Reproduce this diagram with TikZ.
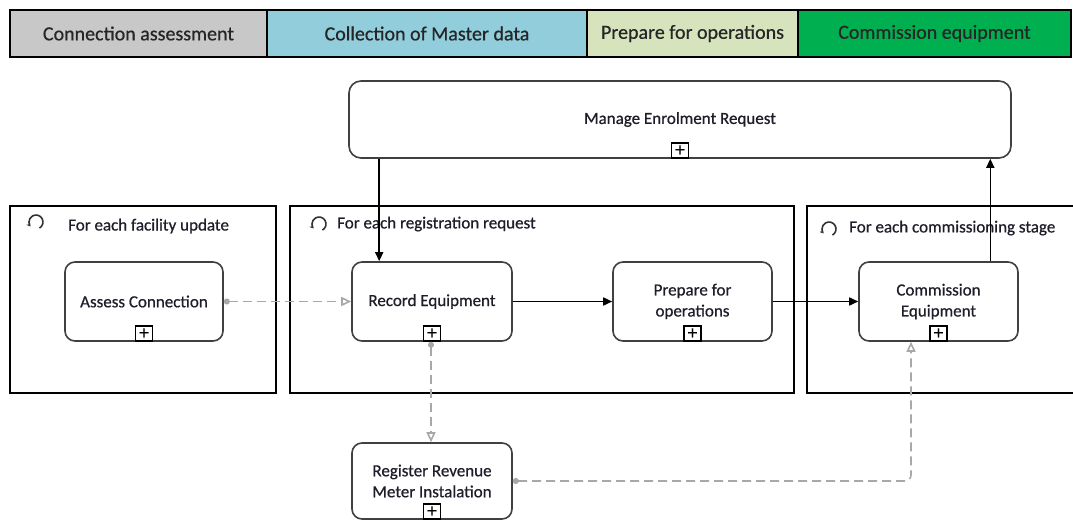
\documentclass[tikz,border=0pt]{standalone}
\usepackage{fontspec}
\setmainfont{Carlito}
\newfontfamily\medfont[FakeBold=0.6]{Carlito}
\usetikzlibrary{arrows.meta}
\definecolor{hgray}{HTML}{C8C8C8}
\definecolor{hblue}{HTML}{92CDDC}
\definecolor{holive}{HTML}{D6E3BC}
\definecolor{hgreen}{HTML}{00B050}
\definecolor{dgray}{HTML}{A8A8A8}
\definecolor{txt}{HTML}{1E1E2A}
\begin{document}
\begin{tikzpicture}[x=1pt,y=-1pt,
  hdr/.style={draw=black, line width=1.6pt, minimum height=47pt, inner sep=0pt,
    font=\medfont\fontsize{20}{24}\selectfont, text=black!85},
  loopbox/.style={draw=black, line width=1.8pt, inner sep=0pt},
  task/.style={draw=black!75, line width=1.6pt, rounded corners=10pt, align=center,
    font=\medfont\fontsize{17}{21}\selectfont, text=txt, inner sep=0pt},
  plusbox/.style={draw=black, line width=1.4pt, minimum width=17pt, minimum height=15pt,
    inner sep=0pt, anchor=south, font=\medfont\fontsize{19}{19}\selectfont},
  looptxt/.style={anchor=west, inner sep=0pt, font=\medfont\fontsize{17}{21}\selectfont, text=txt},
  loopicon/.style={draw=black!80, line width=1.6pt, -{Stealth[length=4pt,width=4.5pt]}},
  flow/.style={draw=black, line width=1.6pt, -{Triangle[length=9pt,width=8pt]}},
  msg/.style={draw=dgray, line width=1.6pt, dash pattern=on 9pt off 5pt,
    {Circle[length=6pt,fill=dgray]}-{Triangle[open,length=10pt,width=9pt,fill=white]}}
]
\clip (0,0) rectangle (1073,521);
\fill[white] (0,0) rectangle (1073,521);

% header bar
\node[hdr, fill=hgray,  minimum width=257pt] (h1) at (138.5,33.5) {Connection assessment};
\node[hdr, fill=hblue,  minimum width=320pt] (h2) at (427,33.5) {Collection of Master data};
\node[hdr, fill=holive, minimum width=211pt] (h3) at (692.5,33.5) {Prepare for operations};
\node[hdr, fill=hgreen, minimum width=273pt] (h4) at (934.5,33.5) {Commission equipment};

% manage enrolment
\node[task, rounded corners=12pt, minimum width=662pt, minimum height=77pt] (man) at (680,119.5) {Manage Enrolment Request};
\node[plusbox] (pman) at (man.south) {+};

% loop boxes
\node[loopbox, minimum width=266pt, minimum height=187pt] (l1) at (143,299.5) {};
\node[loopbox, minimum width=504pt, minimum height=187pt] (l2) at (542,299.5) {};
\node[loopbox, minimum width=280pt, minimum height=187pt] (l3) at (947,299.5) {};

\node[looptxt] (t1) at (68,226) {For each facility update};
\node[looptxt] (t2) at (337,224) {For each registration request};
\node[looptxt] (t3) at (849,228) {For each commissioning stage};

\coordinate (c1) at (36,222);
\coordinate (c2) at (319,224);
\coordinate (c3) at (829,229);
\foreach \c in {c1,c2,c3}
  \draw[loopicon] ([shift={(60:7)}]\c) arc[start angle=60, end angle=-220, radius=7];

% tasks
\node[task, minimum width=158pt, minimum height=79pt] (ass) at (144,301.5) {Assess Connection};
\node[plusbox] (pass) at (ass.south) {+};
\node[task, minimum width=160pt, minimum height=79pt] (rec) at (432,301.5) {Record Equipment};
\node[plusbox] (prec) at (rec.south) {+};
\node[task, minimum width=159pt, minimum height=79pt] (prep) at (692.5,301.5) {Prepare for\\operations};
\node[plusbox] (pprep) at (prep.south) {+};
\node[task, minimum width=159pt, minimum height=79pt] (com) at (938.5,301.5) {Commission\\Equipment};
\node[plusbox] (pcom) at (com.south) {+};
\node[task, minimum width=160pt, minimum height=76pt] (reg) at (432,481) {Register Revenue\\Meter Instalation};
\node[plusbox] (preg) at (reg.south) {+};

% sequence flows
\draw[flow] ([xshift=28pt]rec.north west |- man.south) -- ([xshift=28pt]rec.north west);
\draw[flow] ([xshift=-28.5pt]com.north east) -- ([xshift=-28.5pt]com.north east |- man.south);
\draw[flow] (rec.east) -- (prep.west);
\draw[flow] (prep.east) -- (com.west);

% message / association flows
\draw[msg] (ass.east) -- (rec.west);
\draw[msg] ([xshift=-1pt]rec.south) -- ([xshift=-1pt]reg.north);
\draw[msg, rounded corners=6pt] (reg.east) -| ([xshift=-27.5pt]com.south);
\end{tikzpicture}
\end{document}
